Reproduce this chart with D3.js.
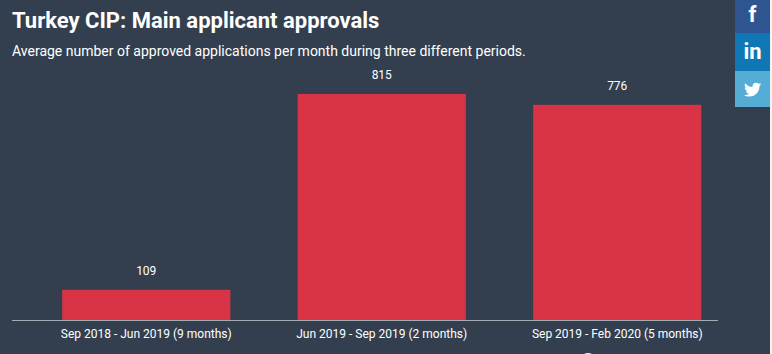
<!DOCTYPE html>
<html>
<head>
<meta charset="utf-8">
<script src="https://cdn.jsdelivr.net/npm/d3@7"></script>
<style>
  html, body { margin: 0; padding: 0; background: #333f4f; overflow: hidden; }
  text { font-family: Roboto, sans-serif; }
</style>
</head>
<body>
<div id="chart"></div>
<script>
const periods = ["Sep 2018 - Jun 2019 (9 months)", "Jun 2019 - Sep 2019 (2 months)", "Sep 2019 - Feb 2020 (5 months)"];
const approvals = [109, 815, 776];
const shareLabels = ["f", "in", ""];
const shareColors = ["#2f5591", "#0f78b4", "#55acd5"];

const width = 772, height = 354;
const baseY = 320;

const svg = d3.select("#chart").append("svg")
  .attr("width", width)
  .attr("height", height)
  .style("display", "block");

svg.append("rect")
  .attr("width", width)
  .attr("height", height)
  .attr("fill", "#333f4f");

svg.append("text")
  .attr("x", 12)
  .attr("y", 28)
  .attr("fill", "#fff")
  .attr("font-size", 22)
  .attr("font-weight", 700)
  .text("Turkey CIP: Main applicant approvals");

svg.append("text")
  .attr("x", 12)
  .attr("y", 56)
  .attr("fill", "#fff")
  .attr("font-size", 14)
  .text("Average number of approved applications per month during three different periods.");

const x = d3.scaleBand()
  .domain(periods)
  .range([28.5, 735])
  .paddingInner(0.286)
  .paddingOuter(0.143);

const y = d3.scaleLinear()
  .domain([0, 815])
  .range([baseY, 94]);

svg.selectAll(".bar")
  .data(periods)
  .enter()
  .append("rect")
  .attr("class", "bar")
  .attr("x", d => x(d))
  .attr("y", (d, i) => y(approvals[i]))
  .attr("width", x.bandwidth())
  .attr("height", (d, i) => baseY - y(approvals[i]))
  .attr("fill", "#d93446");

svg.selectAll(".value")
  .data(periods)
  .enter()
  .append("text")
  .attr("class", "value")
  .attr("x", d => x(d) + x.bandwidth() / 2)
  .attr("y", (d, i) => y(approvals[i]) - 15)
  .attr("text-anchor", "middle")
  .attr("fill", "#fff")
  .attr("font-size", 12)
  .text((d, i) => approvals[i]);

// axis line runs a bit left of the band range, so draw it by hand
svg.append("line")
  .attr("x1", 12)
  .attr("x2", 718)
  .attr("y1", baseY + 0.5)
  .attr("y2", baseY + 0.5)
  .attr("stroke", "#a3abb3")
  .attr("stroke-width", 1);

svg.selectAll(".tick-label")
  .data(periods)
  .enter()
  .append("text")
  .attr("class", "tick-label")
  .attr("x", d => x(d) + x.bandwidth() / 2)
  .attr("y", 338)
  .attr("text-anchor", "middle")
  .attr("fill", "#fff")
  .attr("font-size", 12)
  .text(d => d);

// share buttons
const shareTops = [0, 33, 71, 107];
const share = svg.selectAll(".share")
  .data(shareColors)
  .enter()
  .append("g")
  .attr("class", "share");

share.append("rect")
  .attr("x", 735)
  .attr("y", (d, i) => shareTops[i])
  .attr("width", 35)
  .attr("height", (d, i) => shareTops[i + 1] - shareTops[i])
  .attr("fill", d => d);

share.append("text")
  .attr("x", 752.5)
  .attr("y", (d, i) => [22, 59, 0][i])
  .attr("text-anchor", "middle")
  .attr("fill", "#fff")
  .attr("font-size", 22)
  .attr("font-weight", 700)
  .text((d, i) => shareLabels[i]);

svg.append("path")
  .attr("transform", "translate(744,81) scale(0.72)")
  .attr("fill", "#fff")
  .attr("d", "M24 4.6c-.9.4-1.8.7-2.8.8 1-.6 1.8-1.6 2.2-2.7-1 .6-2 1-3.1 1.200C19.300 2.900 18 2.300 16.600 2.300c-2.700 0-4.900 2.200-4.900 4.900 0 .4 0 .8.100 1.100C7.700 8.100 4.100 6.100 1.700 3.100c-.4.700-.7 1.600-.7 2.500 0 1.700.9 3.200 2.200 4.100-.8 0-1.600-.2-2.200-.6v.1c0 2.400 1.700 4.400 3.900 4.800-.4.100-.8.200-1.300.2-.3 0-.6 0-.9-.1.600 2 2.400 3.400 4.600 3.400-1.700 1.300-3.800 2.100-6.100 2.100-.4 0-.8 0-1.200-.1 2.200 1.400 4.800 2.200 7.500 2.200 9.100 0 14-7.500 14-14v-.6c1-.7 1.800-1.600 2.500-2.500z");

// white page edge and the top of a circle cut off at the bottom
svg.append("rect")
  .attr("x", 770)
  .attr("width", 2)
  .attr("height", height)
  .attr("fill", "#f4f4f4");

svg.append("circle")
  .attr("cx", 588)
  .attr("cy", 361)
  .attr("r", 8)
  .attr("fill", "#fff");
</script>
</body>
</html>
